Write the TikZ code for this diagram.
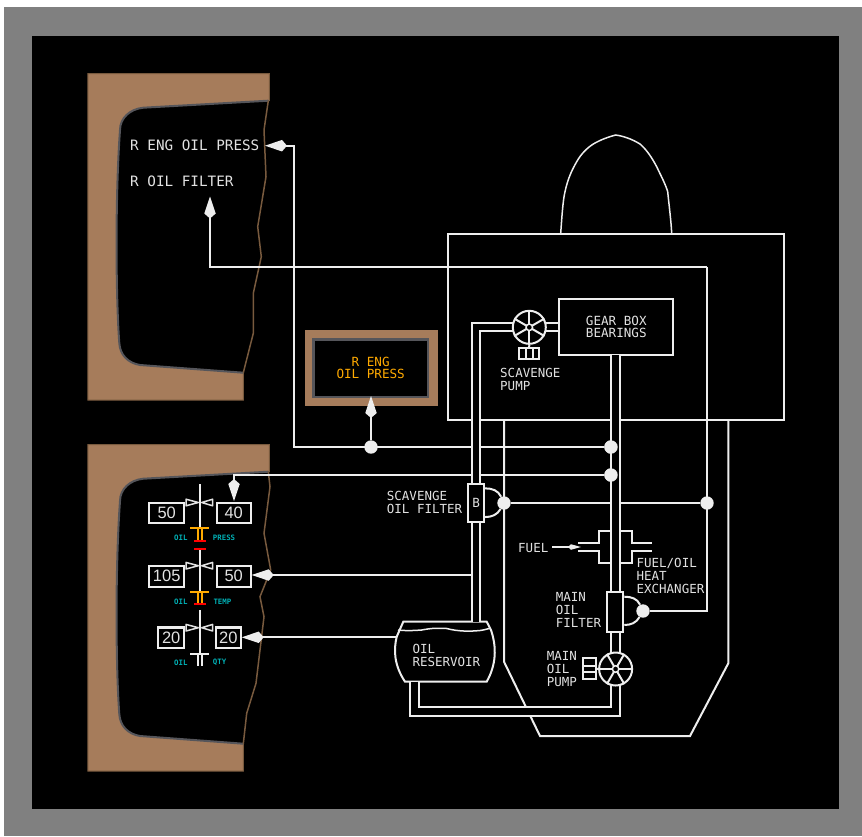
\documentclass[tikz,border=0pt]{standalone}
\usepackage{fontspec}
\setmainfont{Liberation Sans}
\setmonofont{DejaVu Sans Mono}
\usetikzlibrary{arrows.meta}
\definecolor{panelbrown}{RGB}{166,124,91}
\definecolor{paneledge}{RGB}{120,90,62}
\definecolor{screenedge}{RGB}{85,85,90}
\definecolor{linewhite}{RGB}{238,238,238}
\definecolor{textgrey}{RGB}{226,226,226}
\definecolor{amberline}{RGB}{255,170,0}
\definecolor{scalecyan}{RGB}{0,175,180}

\tikzset{
  oilline/.style={draw=linewhite, line width=2pt},
  thinline/.style={draw=linewhite, line width=1.5pt},
  oilpipe/.style={draw=linewhite, line width=2pt, double=black, double distance=6.8pt},
  kitearrow/.style={oilline, -{Kite[length=22pt,width=11.5pt,inset=5pt,fill=linewhite]}},
  junction/.style={circle, fill=linewhite, minimum size=13.4pt, inner sep=0pt},
  label/.style={text=textgrey, font=\ttfamily\fontsize{12.5}{13.2}\selectfont, align=left, inner sep=0pt},
  msgtext/.style={text=textgrey, font=\ttfamily\fontsize{14.3}{15}\selectfont, inner sep=0pt, anchor=west},
  scalelabel/.style={text=scalecyan, font=\ttfamily\bfseries\fontsize{7.4}{8}\selectfont, inner sep=0pt},
  readout/.style={draw=linewhite, line width=2.2pt, fill=black, text=textgrey, inner sep=0pt,
                  font=\fontsize{16.5}{16.5}\selectfont, minimum height=20.6pt},
  blackbox/.style={draw=linewhite, line width=2pt, fill=black, inner sep=0pt},
  pumpwheel/.style={circle, draw=linewhite, line width=2pt, fill=black, minimum size=33pt, inner sep=0pt},
  pumphub/.style={circle, draw=linewhite, line width=1.5pt, fill=black, minimum size=6.5pt, inner sep=0pt},
  pointer/.style={draw=textgrey, line width=1.5pt, fill=black, line join=round},
}

% one display: brown bezel, then the screen with its torn right edge
\newcommand{\enginescreen}[2]{%
  \begin{scope}[shift={(0,#1)}]
    \fill[panelbrown, draw=paneledge, line width=1pt] (87.8,73.5) -- (269.3,73.5) -- (269.3,100.7)
      -- (200,110) -- (200,360) -- (243.3,372.7) -- (243.3,400) -- (87.8,400) -- cycle;
    \fill[black] (268.3,100.7) #2 -- (243.3,372.7) -- (140,365)
      .. controls (128,363) and (120,355) .. (119.3,343)
      .. controls (116,300) and (115,200) .. (120,130)
      .. controls (120,118) and (130,109) .. (143.3,107.7) -- cycle;
    \draw[screenedge, line width=2pt] (268.3,100.7) -- (143.3,107.7)
      .. controls (130,109) and (120,118) .. (120,130)
      .. controls (115,200) and (116,300) .. (119.3,343)
      .. controls (120,355) and (128,363) .. (140,365) -- (243.3,372.7);
    \draw[paneledge, line width=1.5pt] (268.3,100.7) #2 -- (243.3,372.7);
  \end{scope}}

\begin{document}
\begin{tikzpicture}[x=1pt, y=-1pt]
  \useasboundingbox (0,0) rectangle (862,836);
  \fill[gray] (4,7) rectangle (862,836);
  \fill[black] (32,36) rectangle (839,809);

  % displays
  \enginescreen{0}{-- (264,130) -- (266,176.7) -- (257.7,226.7) -- (261.3,256.7) -- (253.3,293.3) -- (253.3,333.3)}
  \enginescreen{371}{-- (270,115.7) -- (264,162.3) -- (270.7,199) -- (260,225.7) -- (264,245.7) -- (256,312.3) -- (246.7,342.3)}

  \node[msgtext] (msgpress) at (130,145.5) {R ENG OIL PRESS};
  \node[msgtext] (msgfilter) at (130,181.5) {R OIL FILTER};

  % warning light
  \node[fill=panelbrown, minimum width=132.4pt, minimum height=76pt, inner sep=0pt] (warnframe) at (371.5,368) {};
  \node[fill=black, draw=screenedge, line width=2.4pt, minimum width=114.4pt, minimum height=57.4pt, inner sep=0pt,
        text=amberline, font=\ttfamily\fontsize{12.6}{12.7}\selectfont, align=center] (warnlight) at (370.7,368) {R ENG\\OIL PRESS};

  % engine outline
  \draw[oilline] (447.8,233.8) rectangle (784.3,420.3);
  \draw[thinline] (560.7,233.3) .. controls (562,215) and (563,200) .. (565,191.7)
    .. controls (568,178) and (572,170) .. (576.7,161.7) .. controls (581,154) and (587,148) .. (593.3,144)
    .. controls (600,140) and (608,137) .. (615.7,135) .. controls (623,136) and (632,139) .. (640,144)
    .. controls (647,150) and (652,158) .. (656.7,166.7) .. controls (661,176) and (665,183) .. (667.7,191.7)
    .. controls (669,205) and (671,220) .. (671.7,233.3);
  \draw[oilline] (504,420) -- (504,661.7) -- (540,736) -- (690,736) -- (728.3,663.3) -- (728.3,420);

  % junctions
  \node[junction] (dotwarn) at (371,447) {};
  \node[junction] (dotpress) at (611,447) {};
  \node[junction] (dotgauge) at (611,475) {};
  \node[junction] (dotscav) at (504,503) {};
  \node[junction] (dotright) at (707,503) {};
  \node[junction] (dotmain) at (643,611) {};
  \coordinate (tipmsgpress) at (265,145.7);
  \coordinate (tipmsgfilter) at (210,196.5);
  \coordinate (tipwarn) at (371,396);
  \coordinate (tipgauge) at (234,501);
  \coordinate (tiptemp) at (251.7,575);
  \coordinate (tipqty) at (241.7,637.3);
  \coordinate (cornerpress) at (293.8,145.7);
  \coordinate (cornerfilter) at (210,266.9);
  \coordinate (cornerright) at (707,266.9);
  \coordinate (cornergauge) at (234,475);
  \coordinate (tubetemp) at (476,575);

  % sensor lines
  \draw[kitearrow] (dotpress) -- (cornerpress |- dotpress) -- (cornerpress) -- (tipmsgpress);
  \draw[kitearrow] (dotwarn) -- (tipwarn);
  \draw[kitearrow] (dotgauge) -- (cornergauge) -- (tipgauge);
  \draw[kitearrow] (tubetemp) -- (tiptemp);
  \draw[kitearrow] (cornerright) -- (cornerfilter) -- (tipmsgfilter);
  \draw[oilline] (dotscav) -- (dotright);
  \draw[oilline] (cornerright) -- (cornerright |- dotmain) -- (dotmain);

  % reservoir
  \node[label] (lblreservoir) at (412.3,655.5) [anchor=west] {OIL\\RESERVOIR};
  \coordinate (resleft) at (396.7,637.3);
  \draw[kitearrow] (resleft) -- (tipqty);
  \draw[oilline] (403.3,621.7) -- (396.7,636.7) .. controls (393.5,650) and (394,665) .. (405,681.7)
    -- (486.7,681.7) .. controls (496,665) and (497,648) .. (491,630) -- (486.7,621.7) -- cycle;
  \draw[thinline] (398,630) .. controls (408,631) and (414,630.5) .. (421.7,630)
    .. controls (432,628) and (438,628) .. (446.7,628.5) .. controls (458,631.5) and (470,631.5) .. (480,630.5)
    .. controls (484,630) and (487,629) .. (490,628.3);

  % heat exchanger
  \draw[oilline] (578.3,542.7) -- (599.3,542.7) -- (599.3,531) -- (612,531);
  \draw[oilline] (578.3,551) -- (599.3,551) -- (599.3,562.7) -- (612,562.7);
  \draw[oilline] (619,531) -- (632.3,531) -- (632.3,542.7) -- (651.7,542.7);
  \draw[oilline] (619,562.7) -- (632.3,562.7) -- (632.3,551) -- (651.7,551);
  \coordinate (fuelstart) at (552.3,547);
  \coordinate (fueltip) at (581,547);
  \draw[thinline, -{Kite[length=13pt,width=5.5pt,inset=3pt,fill=linewhite]}] (fuelstart) -- (fueltip);

  % gear box and pipes
  \node[blackbox, minimum width=114pt, minimum height=56pt, text=textgrey, align=center,
        font=\ttfamily\fontsize{12.6}{12.7}\selectfont] (gearbox) at (616.3,327) {GEAR BOX\\BEARINGS};
  \coordinate (pipecorner) at (476,327);
  \coordinate (resinlet) at (476,621.7);
  \coordinate (resoutlet) at (414.3,681.7);
  \coordinate (pipebottomleft) at (414.3,711.2);
  \coordinate (pipebottomright) at (615.6,711.2);
  \coordinate (gearinlet) at (615.6,355);
  \draw[oilpipe] (gearbox.west |- pipecorner) -- (pipecorner) -- (resinlet);
  \draw[oilpipe] (resoutlet) -- (pipebottomleft) -- (pipebottomright) -- (gearinlet);

  % scavenge pump
  \node[blackbox, minimum width=20pt, minimum height=11pt] (scavdrive) at (529.2,353.3) {};
  \draw[oilline] (526,347.7) -- (526,359) (532.6,347.7) -- (532.6,359);
  \node[pumpwheel] (scavpump) at (529.3,327.3) {};
  \draw[oilline] (scavpump.south) -- (scavdrive.north);
  \foreach \a/\b in {90/270,30/210,150/330}
    \draw[oilline] (scavpump.\a) -- (scavpump.\b);
  \node[pumphub] (scavhub) at (scavpump) {};

  % main pump
  \node[blackbox, minimum width=12.4pt, minimum height=20.7pt] (maindrive) at (589.5,668.7) {};
  \draw[oilline] (maindrive.west |- 0,665.7) -- (maindrive.east |- 0,665.7)
    (maindrive.west |- 0,672.2) -- (maindrive.east |- 0,672.2);
  \node[pumpwheel] (mainpump) at (615.6,669) {};
  \draw[oilline] (maindrive.east) -- (mainpump.west);
  \foreach \a/\b in {0/180,60/240,120/300}
    \draw[oilline] (mainpump.\a) -- (mainpump.\b);
  \node[pumphub] (mainhub) at (mainpump) {};

  % filters
  \node[blackbox, minimum width=15.6pt, minimum height=38.3pt, text=textgrey, font=\ttfamily\fontsize{12.6}{13}\selectfont] (scavfilter) at (476.2,503.2) {B};
  \node[blackbox, minimum width=16.6pt, minimum height=40pt] (mainfilter) at (615,611.7) {};
  \draw[oilline] ([yshift=-5.3pt]scavfilter.north east) to[out=0,in=115] (dotscav);
  \draw[oilline] ([yshift=6.3pt]scavfilter.south east) to[out=0,in=240] (dotscav);
  \draw[oilline] ([yshift=-6pt]mainfilter.north east) to[out=0,in=115] (dotmain);
  \draw[oilline] ([yshift=7.7pt]mainfilter.south east) to[out=0,in=240] (dotmain);

  % redraw junctions sitting on the pipe
  \node[junction] (dotpresstop) at (dotpress) {};
  \node[junction] (dotgaugetop) at (dotgauge) {};

  % labels
  \node[label, anchor=west] (lblscavpump) at (500,379.2) {SCAVENGE\\PUMP};
  \node[label, anchor=west] (lblscavfilter) at (386.7,502.5) {SCAVENGE\\OIL FILTER};
  \node[label, anchor=west] (lblfuel) at (518,547.7) {FUEL};
  \node[label, anchor=west] (lblexchanger) at (636.4,576) {FUEL/OIL\\HEAT\\EXCHANGER};
  \node[label, anchor=west] (lblmainfilter) at (555.7,610) {MAIN\\OIL\\FILTER};
  \node[label, anchor=west] (lblmainpump) at (546.7,669) {MAIN\\OIL\\PUMP};

  % gauges
  \coordinate (pressbar) at (200,528.3);
  \coordinate (tempbar) at (200,592);
  \coordinate (qtybar) at (200,654.3);
  \draw[oilline] (200,484) -- (pressbar);
  \draw[oilline] (200,549) -- (tempbar);
  \draw[oilline] (200,610) -- (qtybar);
  \foreach \bary/\barcol in {528.3/amberline,592/amberline,654.3/linewhite} {
    \draw[draw=\barcol, line width=2pt] (190,\bary) -- (209.3,\bary);
    \draw[draw=\barcol, line width=1.7pt] (197.7,\bary) -- (197.7,\bary+11.5) (202.3,\bary) -- (202.3,\bary+11.5);
  }
  \foreach \redy in {541,549,603.7}
    \draw[red, line width=2pt] (194,\redy) -- (206,\redy);
  \foreach \ptry in {502.5,565.7,627.7} {
    \draw[pointer] (186,\ptry-3.3) -- (198.3,\ptry) -- (186,\ptry+3.3) -- cycle;
    \draw[pointer] (212.7,\ptry-3.3) -- (201.7,\ptry) -- (212.7,\ptry+3.3) -- cycle;
  }
  \node[readout, minimum width=34.7pt] (pressleft) at (166.7,513) {50};
  \node[readout, minimum width=34pt] (pressright) at (233.7,513) {40};
  \node[readout, minimum width=34.7pt] (templeft) at (166.7,576.3) {105};
  \node[readout, minimum width=34pt] (tempright) at (233.7,576.3) {50};
  \node[readout, minimum width=25.7pt] (qtyleft) at (171.2,637.7) {20};
  \node[readout, minimum width=24.7pt] (qtyright) at (228.4,637.7) {20};
  \node[scalelabel, anchor=west] (oilone) at (174,537.3) {OIL};
  \node[scalelabel, anchor=west] (oilpress) at (212.7,537.3) {PRESS};
  \node[scalelabel, anchor=west] (oiltwo) at (174,601.3) {OIL};
  \node[scalelabel, anchor=west] (oiltemp) at (213.3,601.3) {TEMP};
  \node[scalelabel, anchor=west] (oilthree) at (174,662.3) {OIL};
  \node[scalelabel, anchor=west] (oilqty) at (212.7,662.3) {QTY};
\end{tikzpicture}
\end{document}
